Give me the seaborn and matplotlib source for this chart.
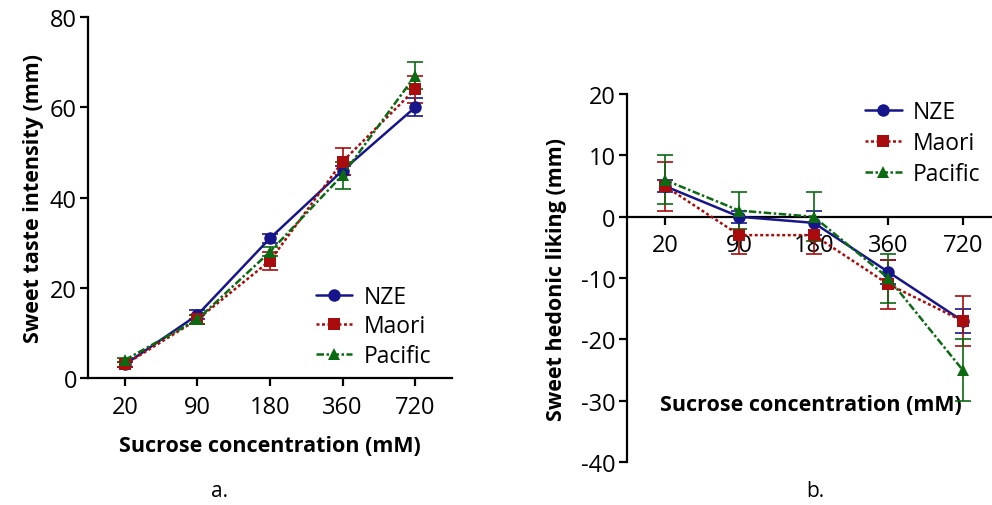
"""
Sweet taste intensity and hedonic liking by sucrose concentration,
for three ethnic groups (NZE, Maori, Pacific). Two panels, a. and b.
"""

import matplotlib
matplotlib.use("Agg")
import matplotlib.pyplot as plt
import pandas as pd
import seaborn as sns

sns.set_theme(style="white")
plt.rcParams["font.family"] = ["Open Sans", "DejaVu Sans"]
plt.rcParams["axes.unicode_minus"] = False
plt.rcParams["text.color"] = "black"
plt.rcParams["axes.labelcolor"] = "black"

# ─────────────────────────────────────────────────────────────────────
# Data
# ─────────────────────────────────────────────────────────────────────

CONCENTRATIONS = ["20", "90", "180", "360", "720"]
GROUPS = ["NZE", "Maori", "Pacific"]

# panel a: sweet taste intensity (mm)
INTENSITY_NZE = [3, 14, 31, 46, 60]
INTENSITY_MAORI = [3, 13, 26, 48, 64]
INTENSITY_PACIFIC = [4, 13, 28, 45, 67]
INTENSITY_ERR_NZE = [0.5, 1, 1, 1, 2]
INTENSITY_ERR_MAORI = [0.5, 1, 2, 3, 3]
INTENSITY_ERR_PACIFIC = [0.5, 1, 1, 3, 3]

# panel b: sweet hedonic liking (mm)
LIKING_NZE = [5, 0, -1, -9, -17]
LIKING_MAORI = [5, -3, -3, -11, -17]
LIKING_PACIFIC = [6, 1, 0, -10, -25]
LIKING_ERR_NZE = [1, 1, 2, 2, 2]
LIKING_ERR_MAORI = [4, 3, 3, 4, 4]
LIKING_ERR_PACIFIC = [4, 3, 4, 4, 5]

COLORS = {"NZE": "#16168a", "Maori": "#a80c0c", "Pacific": "#0b6a12"}
MARKERS = {"NZE": "o", "Maori": "s", "Pacific": "^"}
DASHES = {"NZE": "", "Maori": (1.2, 1.0), "Pacific": (3.0, 1.0, 1.0, 1.0)}


def build_frame(values, errors):
    rows = []
    for group, vals, errs in zip(GROUPS, values, errors):
        for i, (c, v, e) in enumerate(zip(CONCENTRATIONS, vals, errs)):
            rows.append({"pos": i, "conc": c, "group": group, "value": v, "err": e})
    return pd.DataFrame(rows)


df_a = build_frame([INTENSITY_NZE, INTENSITY_MAORI, INTENSITY_PACIFIC],
                   [INTENSITY_ERR_NZE, INTENSITY_ERR_MAORI, INTENSITY_ERR_PACIFIC])
df_b = build_frame([LIKING_NZE, LIKING_MAORI, LIKING_PACIFIC],
                   [LIKING_ERR_NZE, LIKING_ERR_MAORI, LIKING_ERR_PACIFIC])


def draw_panel(ax, df):
    # error bars first, underneath the lines
    for group in GROUPS:
        sub = df[df["group"] == group]
        ax.errorbar(sub["pos"], sub["value"], yerr=sub["err"], fmt="none",
                    ecolor=COLORS[group], elinewidth=1.2, capsize=6,
                    capthick=1.2, zorder=2)
    sns.lineplot(data=df, x="pos", y="value", hue="group", style="group",
                 hue_order=GROUPS, style_order=GROUPS, palette=COLORS,
                 markers=MARKERS, dashes=DASHES, markersize=9, linewidth=1.8,
                 markeredgewidth=0, ax=ax, zorder=3)
    ax.set_xticks(range(len(CONCENTRATIONS)))
    ax.set_xticklabels(CONCENTRATIONS)
    for s in ["top", "right"]:
        ax.spines[s].set_visible(False)
    for s in ["left", "bottom"]:
        ax.spines[s].set_color("black")
        ax.spines[s].set_linewidth(1.6)
    ax.tick_params(axis="both", direction="out", length=6, width=1.6,
                   color="black", labelcolor="black", labelsize=17,
                   bottom=True, left=True, pad=2)
    ax.tick_params(axis="x", pad=6)
    leg = ax.get_legend()
    handles, labels = ax.get_legend_handles_labels()
    leg.remove()
    return handles, labels


fig = plt.figure(figsize=(9.92, 5.06), dpi=100)

# ── panel a ──
ax1 = fig.add_axes([0.0887, 0.251, 0.367, 0.713])
h, l = draw_panel(ax1, df_a)
ax1.set_xlim(-0.51, 4.51)
ax1.set_ylim(0, 80)
ax1.set_yticks([0, 20, 40, 60, 80])
ax1.set_xlabel("Sucrose concentration (mM)", fontsize=15.5, fontweight="bold", labelpad=12)
ax1.set_ylabel("Sweet taste intensity (mm)", fontsize=15.5, fontweight="bold", labelpad=4)
ax1.legend(h, l, loc="lower right", bbox_to_anchor=(1.0, -0.03), frameon=False,
           fontsize=16.5, handlelength=1.6, handletextpad=0.5, labelspacing=0.25)

# ── panel b ──
ax2 = fig.add_axes([0.632, 0.085, 0.37, 0.727])
h, l = draw_panel(ax2, df_b)
ax2.set_xlim(-0.51, 4.42)
ax2.set_ylim(-40, 20)
ax2.set_yticks([-40, -30, -20, -10, 0, 10, 20])
ax2.spines["bottom"].set_position(("data", 0))
ax2.set_xlabel("Sucrose concentration (mM)", fontsize=15.5, fontweight="bold")
ax2.xaxis.set_label_coords(0.5, 0.185)
ax2.set_ylabel("Sweet hedonic liking (mm)", fontsize=15.5, fontweight="bold", labelpad=10)
ax2.legend(h, l, loc="upper right", bbox_to_anchor=(1.02, 1.04), frameon=False,
           fontsize=16.5, handlelength=1.6, handletextpad=0.5, labelspacing=0.3)

fig.text(220 / 992, 1 - 492 / 506, "a.", fontsize=15, ha="center", va="center")
fig.text(815 / 992, 1 - 492 / 506, "b.", fontsize=15, ha="center", va="center")

fig.savefig("out.png", dpi=100)
plt.close(fig)
